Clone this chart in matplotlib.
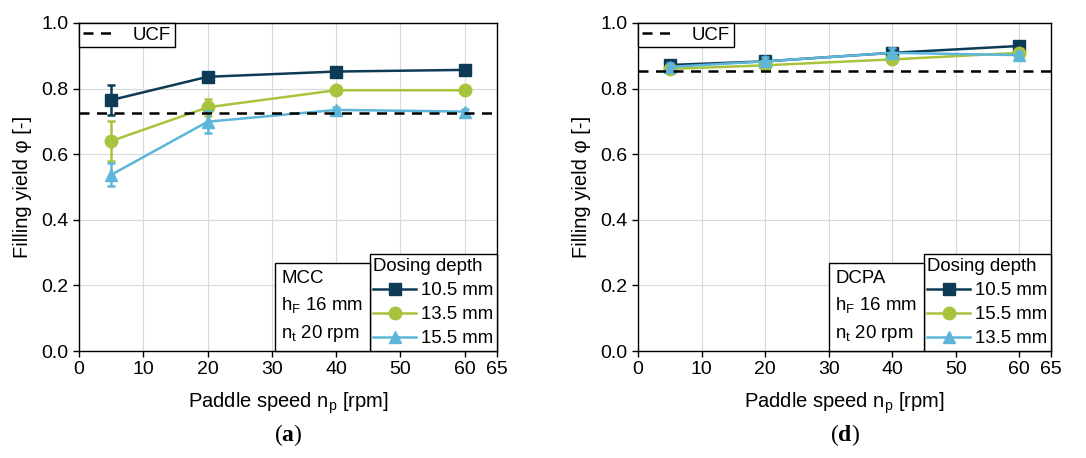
import matplotlib
matplotlib.use("Agg")
from matplotlib import pyplot as plt
from matplotlib.lines import Line2D

plt.rcParams['font.family'] = ['Liberation Sans', 'DejaVu Sans']
plt.rcParams['mathtext.fontset'] = 'custom'
plt.rcParams['mathtext.rm'] = 'Liberation Sans'
plt.rcParams['mathtext.it'] = 'Liberation Sans:italic'
plt.rcParams['mathtext.bf'] = 'Liberation Serif:bold'

# paddle speed
x = [5, 20, 40, 60]

# (a) MCC
a_ucf = 0.725
a_labels = ["10.5 mm", "13.5 mm", "15.5 mm"]
a_y = [
    [0.765, 0.836, 0.852, 0.857],
    [0.640, 0.743, 0.795, 0.795],
    [0.537, 0.699, 0.735, 0.730],
]
a_err = [
    [0.045, 0.008, 0.006, 0.006],
    [0.060, 0.026, 0.006, 0.006],
    [0.035, 0.034, 0.010, 0.008],
]

# (d) DCPA
d_ucf = 0.854
d_labels = ["10.5 mm", "15.5 mm", "13.5 mm"]
d_y = [
    [0.872, 0.883, 0.909, 0.930],
    [0.860, 0.871, 0.889, 0.909],
    [0.866, 0.883, 0.909, 0.902],
]
d_err = [
    [0.010, 0.012, 0.012, 0.010],
    [0.008, 0.008, 0.008, 0.010],
    [0.012, 0.014, 0.014, 0.010],
]

colors = ["#0d3b55", "#a8c43c", "#5db6da"]
markers = ["s", "o", "^"]
msizes = [8, 9, 9]
fs = 13.4
lw = 1.8

fig = plt.figure(figsize=(10.86, 4.58), dpi=100)
ax1 = fig.add_axes([0.0727, 0.2336, 0.3849, 0.7162])
ax2 = fig.add_axes([0.5875, 0.2336, 0.3803, 0.7162])


def draw(ax, ys, errs, labels, ucf, info, caption):
    ax.grid(color="#d9d9d9", linewidth=0.8, zorder=0)
    ax.set_axisbelow(True)
    handles = []
    for i in range(3):
        ax.errorbar(x, ys[i], yerr=errs[i], color=colors[i], marker=markers[i],
                    markersize=msizes[i], linewidth=lw, elinewidth=lw,
                    capsize=3, capthick=lw, zorder=3 + i)
        handles.append(Line2D([], [], color=colors[i], marker=markers[i],
                              markersize=msizes[i], linewidth=lw))
    ax.axhline(ucf, color="black", linestyle=(0, (4, 3)), linewidth=1.8, zorder=10)

    ax.set_xlim(0, 65)
    ax.set_ylim(0, 1.0)
    ax.set_xticks([0, 10, 20, 30, 40, 50, 60, 65])
    ax.set_yticks([0.0, 0.2, 0.4, 0.6, 0.8, 1.0])
    ax.set_yticklabels(["0.0", "0.2", "0.4", "0.6", "0.8", "1.0"])
    ax.tick_params(labelsize=14, direction="out", length=4, width=1)
    for s in ax.spines.values():
        s.set_linewidth(1.0)
    ax.set_xlabel("Paddle speed n$_\\mathrm{p}$ [rpm]", fontsize=14.5, labelpad=9)
    ax.set_ylabel("Filling yield φ [-]", fontsize=14.5, labelpad=7)

    # UCF legend
    l_ucf = ax.legend([Line2D([], [], color="black", linestyle=(0, (4, 3)), linewidth=1.8)],
                      ["UCF"], loc="upper left", borderaxespad=0, fancybox=False,
                      edgecolor="black", fontsize=fs, handlelength=1.8,
                      handletextpad=0.9, borderpad=0.2, framealpha=1)
    l_ucf.get_frame().set_linewidth(1.0)
    ax.add_artist(l_ucf)

    # dosing depth legend
    leg = ax.legend(handles, labels, title="Dosing depth", loc="lower right",
                    borderaxespad=0, fancybox=False, edgecolor="black",
                    fontsize=fs, title_fontsize=fs, handlelength=2.3,
                    handletextpad=0.25, borderpad=0.2, labelspacing=0.38,
                    framealpha=1, alignment="left")
    leg.get_frame().set_linewidth(1.0)
    ax.add_artist(leg)
    fig.canvas.draw()
    bb = leg.get_window_extent().transformed(ax.transAxes.inverted())

    # material info box
    empty = [Line2D([], [], linestyle="none") for _ in info]
    l_info = ax.legend(empty, info, loc="lower right", bbox_to_anchor=(bb.x0, 0),
                       borderaxespad=0, fancybox=False, edgecolor="black",
                       fontsize=fs, handlelength=0, handletextpad=0,
                       borderpad=0.35, labelspacing=0.45, framealpha=1)
    l_info.get_frame().set_linewidth(1.0)

    pos = ax.get_position()
    fig.text((pos.x0 + pos.x1) / 2 + 0.0, 0.05, "(" + caption + ")",
             ha="center", va="center", fontsize=17, family="Liberation Serif")


draw(ax1, a_y, a_err, a_labels, a_ucf,
     ["MCC", "h$_\\mathrm{F}$ 16 mm", "n$_\\mathrm{t}$ 20 rpm"], "$\\mathbf{a}$")
draw(ax2, d_y, d_err, d_labels, d_ucf,
     ["DCPA", "h$_\\mathrm{F}$ 16 mm", "n$_\\mathrm{t}$ 20 rpm"], "$\\mathbf{d}$")

fig.savefig("out.png", dpi=100)
